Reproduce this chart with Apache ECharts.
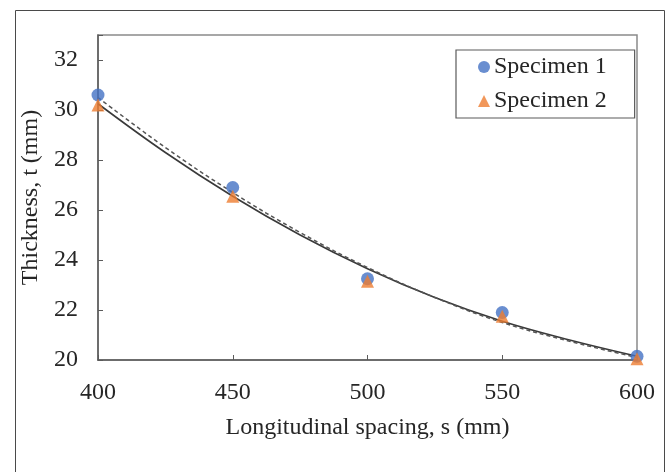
<!DOCTYPE html>
<html>
<head>
<meta charset="utf-8">
<script src="https://cdn.jsdelivr.net/npm/echarts@6/dist/echarts.min.js"></script>
<style>html,body{margin:0;padding:0;background:#fff}#c{width:667px;height:472px}</style>
</head>
<body>
<div id="c"></div>
<script>
const spacing = [400, 450, 500, 550, 600];
const specimen1 = [30.6, 26.9, 23.25, 21.9, 20.15];
const specimen2 = [30.2, 26.55, 23.15, 21.75, 20.05];
const trendX = [400, 425, 450, 475, 500, 525, 550, 575, 600];
const trendSolid = [30.25, 28.3, 26.55, 25.0, 23.65, 22.5, 21.55, 20.8, 20.15];
const trendDashed = [30.5, 28.5, 26.7, 25.1, 23.7, 22.5, 21.5, 20.75, 20.1];
const yTicks = [20, 22, 24, 26, 28, 30, 32];

const pair = (xs, ys) => xs.map((x, i) => [x, ys[i]]);
const font = 'Liberation Serif';
const txt = '#262626';

const chart = echarts.init(document.getElementById('c'));
chart.setOption({
  animation: false,
  backgroundColor: '#fff',
  textStyle: { fontFamily: font },
  graphic: [{
    type: 'rect', shape: { x: 15.5, y: 10.5, width: 649, height: 480 },
    style: { fill: 'none', stroke: '#4a4a4a', lineWidth: 1 }, silent: true
  }],
  grid: { left: 98, right: 30, top: 35, bottom: 112, show: true, borderColor: '#8a8a8a', borderWidth: 1.5, backgroundColor: 'transparent' },
  legend: {
    data: [{ name: 'Specimen 1', icon: 'circle' }, { name: 'Specimen 2', icon: 'triangle' }],
    orient: 'vertical', left: 456, top: 50,
    padding: [3, 28, 3, 22], itemGap: 6, itemWidth: 12, itemHeight: 12,
    borderColor: '#5a5a5a', borderWidth: 1.2, backgroundColor: '#fff',
    textStyle: { fontFamily: font, fontSize: 24, color: txt, lineHeight: 28, padding: [0, 0, 0, -1] }
  },
  xAxis: {
    type: 'value', min: 400, max: 600, interval: 50,
    name: 'Longitudinal spacing, s (mm)', nameLocation: 'middle', nameGap: 56,
    nameTextStyle: { fontFamily: font, fontSize: 24, color: txt },
    axisLine: { show: true, lineStyle: { color: '#5a5a5a', width: 1.5 } },
    axisTick: { show: true, inside: true, length: 5, lineStyle: { color: '#5a5a5a' } },
    axisLabel: { fontFamily: font, fontSize: 24, color: txt, margin: 21 },
    splitLine: { show: false }
  },
  yAxis: {
    type: 'value', min: 20, max: 33, interval: 2,
    name: 'Thickness, t (mm)', nameLocation: 'middle', nameGap: 50,
    nameTextStyle: { fontFamily: font, fontSize: 24, color: txt },
    axisLine: { show: true, lineStyle: { color: '#5a5a5a', width: 1.5 } },
    axisTick: { show: true, inside: true, length: 5, lineStyle: { color: '#5a5a5a' } },
    axisLabel: { fontFamily: font, fontSize: 24, color: txt, margin: 20,
      formatter: v => yTicks.includes(v) ? String(v) : '' },
    splitLine: { show: false }
  },
  series: [
    { name: 'trend2', type: 'line', data: pair(trendX, trendSolid), smooth: 0.4, symbol: 'none',
      lineStyle: { color: '#3a3a3a', width: 1.6 }, z: 2, silent: true },
    { name: 'trend1', type: 'line', data: pair(trendX, trendDashed), smooth: 0.4, symbol: 'none',
      lineStyle: { color: '#555', width: 1.5, type: [4, 3] }, z: 2, silent: true },
    { name: 'Specimen 1', type: 'scatter', data: pair(spacing, specimen1), symbol: 'circle', symbolSize: 13,
      itemStyle: { color: '#4472C4' }, z: 3 },
    { name: 'Specimen 2', type: 'scatter', data: pair(spacing, specimen2), symbol: 'triangle', symbolSize: 13,
      itemStyle: { color: '#ED7D31' }, z: 4 }
  ]
});
</script>
</body>
</html>
